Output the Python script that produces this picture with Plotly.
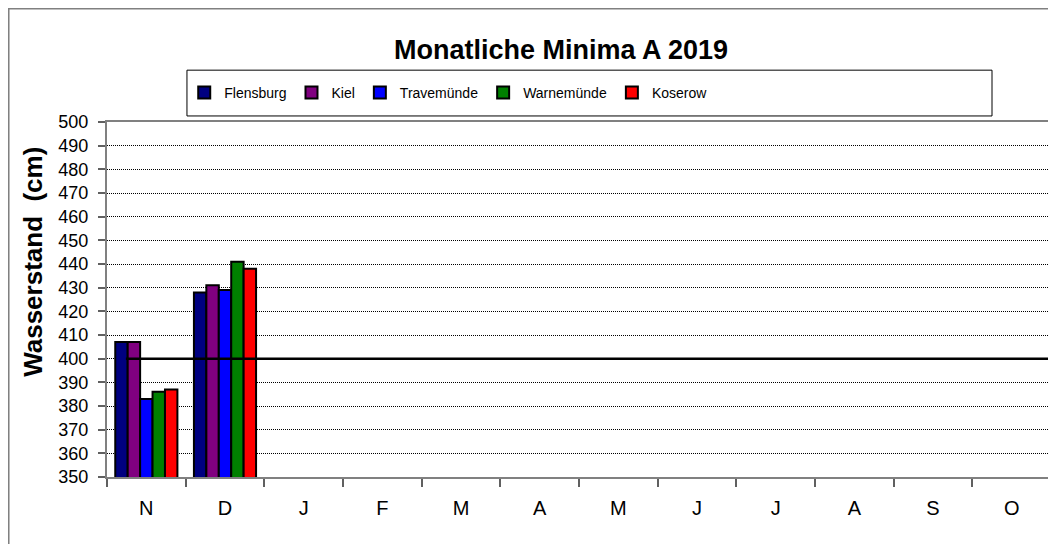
import plotly.graph_objects as go

# month labels (Nov 2018 .. Oct 2019)
months = ["N", "D", "J", "F", "M", "A", "M", "J", "J", "A", "S", "O"]

# monthly minimum water levels (cm), only N and D available
flensburg = [407, 428] + [None] * 10
kiel = [407, 431] + [None] * 10
travemuende = [383, 429] + [None] * 10
warnemuende = [386, 441] + [None] * 10
koserow = [387, 438] + [None] * 10

reference_level = 400

stations = [
    ("Flensburg", flensburg, "#000080"),
    ("Kiel", kiel, "#800080"),
    ("Travemünde", travemuende, "#0000FF"),
    ("Warnemünde", warnemuende, "#008000"),
    ("Koserow", koserow, "#FF0000"),
]

x_pos = list(range(len(months)))

fig = go.Figure()
for name, vals, color in stations:
    fig.add_trace(go.Bar(
        x=x_pos, y=vals, name=name,
        marker=dict(color=color, line=dict(color="black", width=2)),
    ))

# horizontal reference line at 400 cm
fig.add_shape(type="line", xref="paper", yref="y",
              x0=0.02, x1=1, y0=reference_level, y1=reference_level,
              line=dict(color="black", width=2.5), layer="above")

# legend frame
fig.add_shape(type="rect", xref="paper", yref="paper",
              x0=0.0847, x1=0.9375, y0=1.017, y1=1.146,
              line=dict(color="black", width=1), layer="below")

# outer chart frame
fig.add_shape(type="rect", xref="paper", yref="paper",
              x0=-0.1043, x1=1.2, y0=-0.5, y1=1.3197,
              line=dict(color="#808080", width=2), layer="below")

# y axis title (sits a bit above the plot centre, as in the original)
fig.add_annotation(text="<b>Wasserstand  (cm)</b>", textangle=-90,
                   xref="paper", yref="paper", x=-0.0784, y=0.606,
                   xanchor="center", yanchor="middle", showarrow=False,
                   font=dict(size=26))

fig.update_layout(
    width=1056, height=544,
    margin=dict(l=99, r=13, t=114, b=75),
    paper_bgcolor="white", plot_bgcolor="white",
    font=dict(family="Liberation Sans, Arial, sans-serif", color="black"),
    barmode="group", bargap=0.21, bargroupgap=0,
    title=dict(text="<b>Monatliche Minima A 2019</b>", font=dict(size=27),
               x=0.481, xref="paper", xanchor="center",
               y=1 - 42 / 544, yanchor="middle"),
    legend=dict(orientation="h", x=0.362, xanchor="center",
                y=1.082, yanchor="middle", font=dict(size=14),
                itemwidth=30, bgcolor="rgba(0,0,0,0)"),
    showlegend=True,
)

fig.update_xaxes(
    range=[-0.5, len(months) - 0.5],
    tickvals=x_pos, ticktext=months, ticks="",
    tickfont=dict(size=20), ticklabelstandoff=12,
    minor=dict(tickvals=[i - 0.5 for i in range(len(months) + 1)],
               ticks="outside", ticklen=8, tickcolor="#606060", tickwidth=1.5),
    showgrid=False, showline=True, linecolor="#808080", linewidth=2, mirror=True,
)

fig.update_yaxes(
    range=[350, 500], dtick=10,
    tickfont=dict(size=18), ticklabelstandoff=6,
    ticks="outside", ticklen=7, tickcolor="#606060", tickwidth=1.5,
    showgrid=True, gridcolor="black", gridwidth=1, griddash="1px,1px",
    showline=True, linecolor="#808080", linewidth=2, mirror=True,
    zeroline=False,
)

fig.write_html("out.html")
